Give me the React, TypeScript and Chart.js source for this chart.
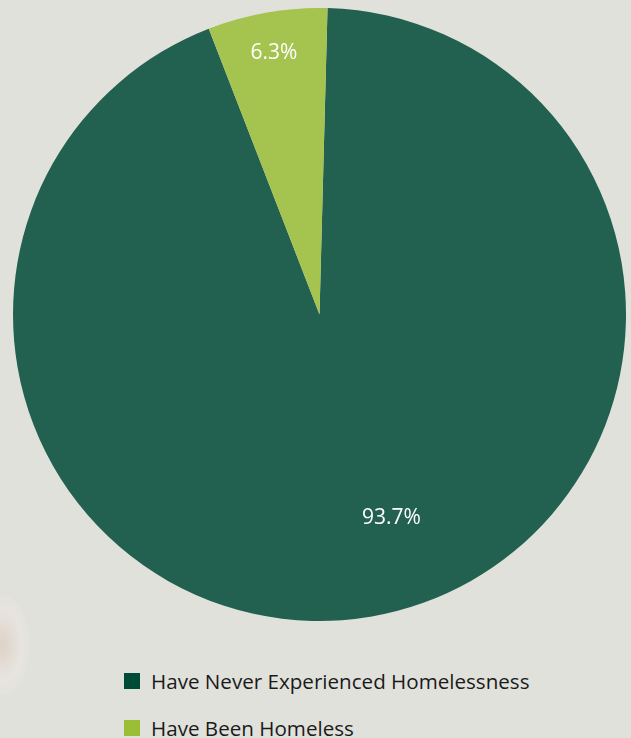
import React, { useEffect, useRef } from "react";
import { Chart, registerables } from "chart.js";

Chart.register(...registerables);

const categories = ["Have Never Experienced Homelessness", "Have Been Homeless"];
const values = [93.7, 6.3];
const valueLabels = ["93.7%", "6.3%"];
const sliceColors = ["#226050", "#a5c34f"];
const legendColors = ["#004b38", "#9bbe37"];
const labelRadius = [0.7, 0.87];
const labelAngleShift = [-0.17, 0];

const labelPlugin = {
  id: "sliceLabels",
  afterDatasetsDraw(chart: any) {
    const ctx = chart.ctx;
    const meta = chart.getDatasetMeta(0);
    ctx.save();
    ctx.fillStyle = "#ffffff";
    ctx.font = "21px 'Open Sans'";
    ctx.textAlign = "center";
    ctx.textBaseline = "middle";
    meta.data.forEach((arc: any, i: number) => {
      const p = arc.getProps(["x", "y", "startAngle", "endAngle", "outerRadius"], true);
      const mid = (p.startAngle + p.endAngle) / 2 + labelAngleShift[i];
      const r = p.outerRadius * labelRadius[i];
      ctx.fillText(valueLabels[i], p.x + Math.cos(mid) * r, p.y + Math.sin(mid) * r + 1);
    });
    ctx.restore();
  },
};

export default function App() {
  const ref = useRef<HTMLCanvasElement | null>(null);
  useEffect(() => {
    document.body.style.margin = "0";
    const chart = new Chart(ref.current as HTMLCanvasElement, {
      type: "pie",
      data: {
        labels: categories,
        datasets: [
          {
            data: values,
            backgroundColor: sliceColors,
            borderWidth: 0,
          },
        ],
      },
      options: {
        animation: false,
        responsive: true,
        maintainAspectRatio: false,
        rotation: 1.5,
        layout: { padding: 0 },
        plugins: {
          legend: { display: false },
          tooltip: { enabled: false },
        },
      },
      plugins: [labelPlugin],
    });
    return () => chart.destroy();
  }, []);

  return (
    <div
      style={{
        position: "relative",
        width: 631,
        height: 738,
        overflow: "hidden",
        background: "#e1e1dc",
        fontFamily: "'Open Sans', sans-serif",
      }}
    >
      <div
        style={{
          position: "absolute",
          left: -25,
          top: 595,
          width: 55,
          height: 100,
          borderRadius: "50%",
          background:
            "radial-gradient(ellipse, rgba(215,185,160,0.35) 0%, rgba(238,232,228,0.45) 50%, rgba(225,225,220,0) 80%)",
        }}
      />
      <div style={{ position: "absolute", left: 13, top: 8, width: 613, height: 613 }}>
        <canvas ref={ref} />
      </div>
      <div style={{ position: "absolute", left: 124, top: 664 }}>
        {categories.map((c, i) => (
          <div key={c} style={{ display: "flex", alignItems: "center", height: 34, marginBottom: 13 }}>
            <span
              style={{
                display: "inline-block",
                width: 16,
                height: 16,
                background: legendColors[i],
                marginRight: 11,
              }}
            />
            <span style={{ fontSize: 20.6, color: "#1a1a1a", whiteSpace: "nowrap" }}>{c}</span>
          </div>
        ))}
      </div>
    </div>
  );
}
